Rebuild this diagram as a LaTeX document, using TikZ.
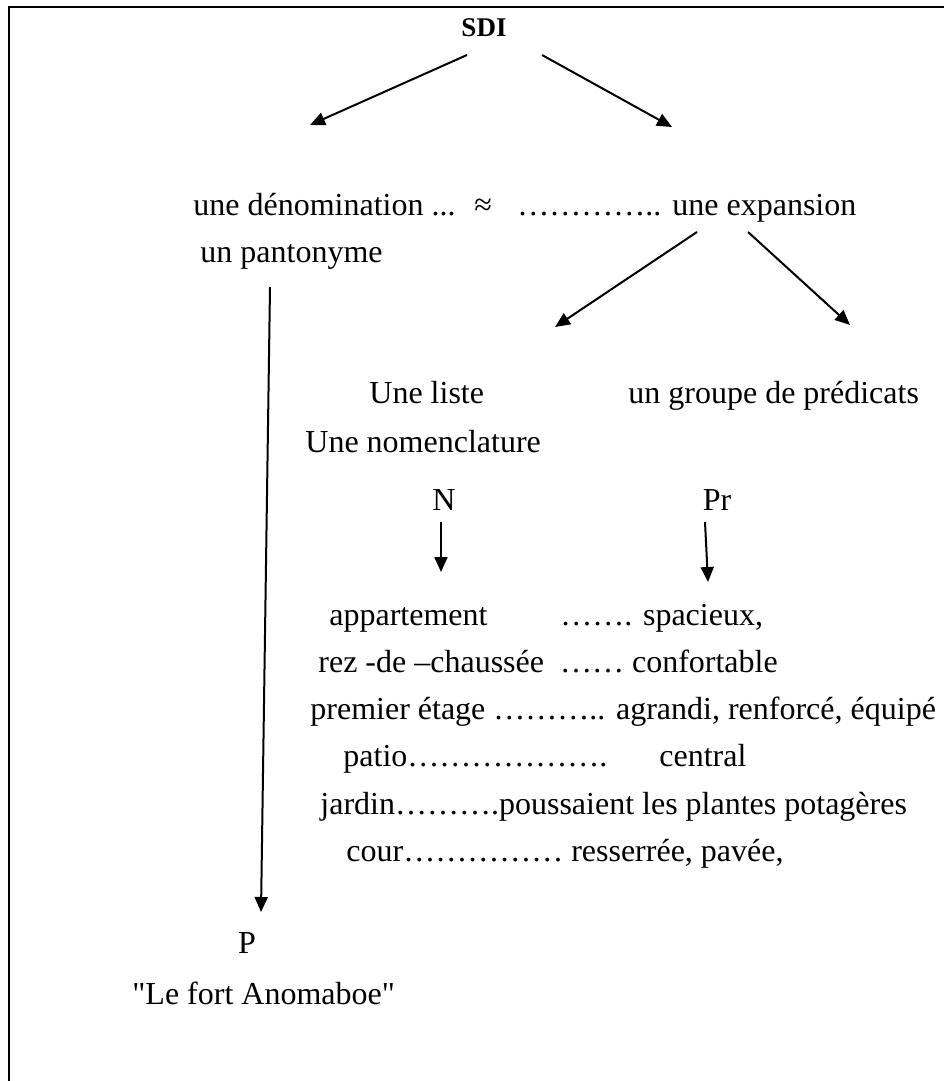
\documentclass[tikz,border=0pt]{standalone}
\usepackage{fontspec}
\setmainfont{Liberation Serif}[Ligatures=TeXOff]
\usetikzlibrary{arrows.meta}

\tikzset{
	txt/.style={inner sep=0pt, anchor=base west, font=\fontsize{16}{19}\selectfont},
	mid/.style={inner sep=0pt, anchor=base, font=\fontsize{16}{19}\selectfont},
	arr/.style={line width=1pt, -{Triangle[length=7.5pt,width=6.5pt]}},
}

\begin{document}
\begin{tikzpicture}[x=0.5pt, y=-0.5pt]
	\useasboundingbox (0,0) rectangle (944,1081);
	
	% Frame
	\draw[line width=1pt] (9,1081) -- (9,7) -- (944,7);
	
	% Labels
	\node[inner sep=0pt, font=\bfseries\fontsize{13.5}{16}\selectfont] (sdi) at (484,28) {SDI};
	\node[txt] (denom) at (193,215) {une dénomination ... \ ≈};
	\node[txt] (dots) at (517,215) {…………..};
	\node[txt] (expansion) at (672,215) {une expansion};
	\node[txt] (panto) at (200,262) {un pantonyme};
	\node[txt] (liste) at (369,403) {Une liste};
	\node[txt] (groupe) at (628,403) {un groupe de prédicats};
	\node[txt] (nomencl) at (305,452) {Une nomenclature};
	\node[mid] (n) at (444,510) {N};
	\node[mid] (pr) at (717,510) {Pr};
	\node[txt] (appart) at (329,625) {appartement};
	\node[txt] (spacieux) at (560,625) {……. spacieux,};
	\node[txt] (rez) at (318,672) {rez -de –chaussée \ …… confortable};
	\node[txt] (premier) at (310,719) {premier étage ……….. agrandi, renforcé, équipé};
	\node[txt] (patio) at (343,766) {patio……………….};
	\node[txt] (central) at (659,766) {central};
	\node[txt] (jardin) at (320,814) {jardin……….poussaient les plantes potagères};
	\node[txt] (cour) at (346,861) {cour…………… resserrée, pavée,};
	\node[mid] (p) at (247,953) {P};
	\node[txt] (fort) at (132,1004) {"Le fort Anomaboe"};
	
	% Arrow ends
	\coordinate (sdiL) at (467,55);
	\coordinate (sdiR) at (542,55);
	\coordinate (denomTop) at (310,125);
	\coordinate (expTop) at (672,127);
	\coordinate (pantoBot) at (270,287);
	\coordinate (pTop) at (261,912);
	\coordinate (expL) at (697,232);
	\coordinate (expR) at (748,232);
	\coordinate (listeTop) at (555,327);
	\coordinate (groupeTop) at (850,325);
	\coordinate (nBot) at (441,522);
	\coordinate (nEnd) at (441,572);
	\coordinate (prBot) at (705,522);
	\coordinate (prEnd) at (708,582);
	
	% Arrows
	\draw[arr] (sdiL) -- (denomTop);
	\draw[arr] (sdiR) -- (expTop);
	\draw[arr] (pantoBot) -- (pTop);
	\draw[arr] (expL) -- (listeTop);
	\draw[arr] (expR) -- (groupeTop);
	\draw[arr] (nBot) -- (nEnd);
	\draw[arr] (prBot) -- (prEnd);
\end{tikzpicture}
\end{document}
